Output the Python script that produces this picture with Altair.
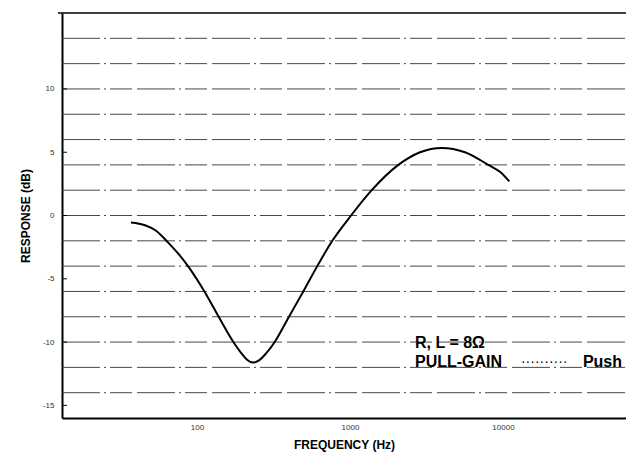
import altair as alt
import pandas as pd

# ---- data ----
freq_hz = [37, 45.7, 54, 64.3, 75.2, 88, 113, 140, 174.5, 194, 212.3, 232.3, 254.2,
           282.5, 323.5, 399, 495, 611, 766, 1016, 1387, 2070, 2870, 3975, 5645,
           8020, 9550, 10990]
response_db = [-0.55, -0.77, -1.2, -2.1, -3.0, -4.06, -6.1, -8.1, -10.07, -10.85,
               -11.4, -11.62, -11.45, -10.9, -9.95, -8.0, -6.0, -4.0, -2.0, 0.0,
               2.0, 4.0, 5.0, 5.34, 5.0, 4.0, 3.45, 2.7]
grid_db = [-14, -12, -10, -8, -6, -4, -2, 0, 2, 4, 6, 8, 10, 12, 14]
top_db = [16]
y_tick_db = [-15, -10, -5, 0, 5, 10]
x_tick_hz = [100, 1000, 10000]
note_left_text = ["R, L = 8Ω", "PULL-GAIN"]
note_left_hz = [2660, 2660]
note_left_db = [-10.1, -11.6]
note_dots_text = ["··········"]
note_dots_hz = [18600]
note_dots_db = [-11.6]
note_right_text = ["Push"]
note_right_hz = [60000]
note_right_db = [-11.6]

W, H = 564, 405
FONT = "Liberation Sans"

xs = alt.Scale(type="log", domain=[13.1, 63700], nice=False)
ys = alt.Scale(domain=[-16, 16], nice=False, zero=False)

x_axis = alt.Axis(values=x_tick_hz, title="FREQUENCY (Hz)", labelExpr="'' + datum.value",
                  grid=False, ticks=False, labelPadding=5, titlePadding=8)
y_axis = alt.Axis(values=y_tick_db, title="RESPONSE (dB)", labelExpr="'' + datum.value",
                  grid=False, ticks=False, labelPadding=8, titlePadding=10)

curve_df = pd.DataFrame({"f": freq_hz, "r": response_db})
grid_df = pd.DataFrame({"g": grid_db})
top_df = pd.DataFrame({"g": top_db})
tick_df = pd.DataFrame({"g": y_tick_db})
left_df = pd.DataFrame({"f": note_left_hz, "r": note_left_db, "t": note_left_text})
dots_df = pd.DataFrame({"f": note_dots_hz, "r": note_dots_db, "t": note_dots_text})
right_df = pd.DataFrame({"f": note_right_hz, "r": note_right_db, "t": note_right_text})

grid = alt.Chart(grid_df).mark_rule(
    color="#333", strokeWidth=0.9, strokeDash=[38, 4, 2, 4, 22, 5]
).encode(y=alt.Y("g:Q", scale=ys, axis=y_axis), x=alt.value(0), x2=alt.value(W))

top = alt.Chart(top_df).mark_rule(color="black", strokeWidth=1.5).encode(
    y=alt.Y("g:Q", scale=ys, axis=y_axis), x=alt.value(-4), x2=alt.value(W))

ticks = alt.Chart(tick_df).mark_rule(color="black", strokeWidth=1).encode(
    y=alt.Y("g:Q", scale=ys, axis=y_axis), x=alt.value(0), x2=alt.value(5))

curve = alt.Chart(curve_df).mark_line(
    color="black", strokeWidth=2, interpolate="monotone"
).encode(x=alt.X("f:Q", scale=xs, axis=x_axis), y=alt.Y("r:Q", scale=ys, axis=y_axis))


def note_layer(df, align, size, weight="normal"):
    return alt.Chart(df).mark_text(
        align=align, baseline="middle", font=FONT, fontSize=size,
        fontWeight=weight, color="black"
    ).encode(x=alt.X("f:Q", scale=xs, axis=x_axis),
             y=alt.Y("r:Q", scale=ys, axis=y_axis), text="t:N")


notes_left = note_layer(left_df, "left", 16, "bold")
notes_dots = note_layer(dots_df, "center", 14)
notes_right = note_layer(right_df, "right", 16, "bold")

chart = alt.layer(grid, top, ticks, curve, notes_left, notes_dots, notes_right).properties(
    width=W, height=H,
    autosize=alt.AutoSizeParams(type="none"),
    padding={"left": 54, "top": 5, "right": 0, "bottom": 34},
).configure_view(stroke=None).configure_axis(
    domainColor="black", domainWidth=2, labelFont=FONT, labelFontSize=8,
    labelColor="#333", titleFont=FONT, titleFontSize=12, titleFontWeight="bold",
    titleColor="black"
)

chart.save("out.html", embed_options={"renderer": "svg", "actions": False})
